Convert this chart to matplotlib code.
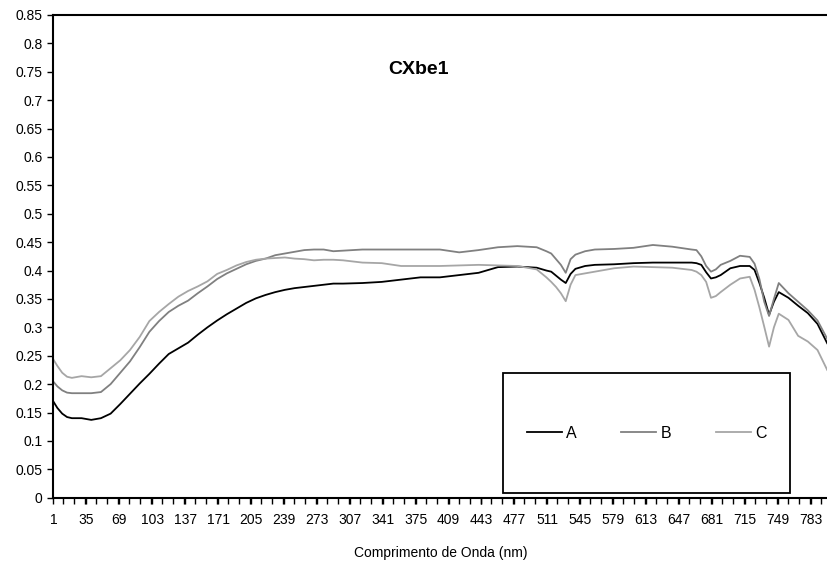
import numpy as np
import matplotlib.pyplot as plt
from matplotlib.patches import Rectangle
from matplotlib.ticker import FixedLocator, MultipleLocator

# wavelength index (category) positions where the curves were read
x = [1, 5, 10, 15, 20, 30, 40, 50, 60, 70, 80, 90, 100, 110, 120, 130, 140, 150,
     160, 170, 180, 190, 200, 210, 220, 230, 240, 250, 260, 270, 280, 290, 300,
     320, 340, 360, 380, 400, 420, 440, 460, 480, 500, 510, 515, 520, 525, 530,
     535, 540, 550, 560, 580, 600, 620, 640, 660, 665, 670, 675, 680, 685, 690,
     700, 710, 720, 725, 730, 735, 740, 745, 750, 760, 770, 780, 790, 800]

serie_a = [0.169, 0.158, 0.148, 0.142, 0.140, 0.140, 0.137, 0.140, 0.148, 0.165,
           0.183, 0.201, 0.218, 0.236, 0.253, 0.263, 0.273, 0.287, 0.300, 0.312,
           0.323, 0.333, 0.343, 0.351, 0.357, 0.362, 0.366, 0.369, 0.371, 0.373,
           0.375, 0.377, 0.377, 0.378, 0.380, 0.384, 0.388, 0.388, 0.392, 0.396,
           0.406, 0.407, 0.405, 0.400, 0.398, 0.391, 0.384, 0.378, 0.394, 0.403,
           0.408, 0.410, 0.411, 0.413, 0.414, 0.414, 0.414, 0.413, 0.410, 0.397,
           0.386, 0.388, 0.392, 0.404, 0.408, 0.408, 0.401, 0.378, 0.352, 0.322,
           0.345, 0.362, 0.352, 0.338, 0.325, 0.306, 0.272]

serie_b = [0.204, 0.196, 0.189, 0.185, 0.184, 0.184, 0.184, 0.186, 0.200, 0.220,
           0.240, 0.265, 0.292, 0.311, 0.327, 0.338, 0.347, 0.360, 0.372, 0.385,
           0.395, 0.403, 0.411, 0.417, 0.421, 0.427, 0.430, 0.433, 0.436, 0.437,
           0.437, 0.434, 0.435, 0.437, 0.437, 0.437, 0.437, 0.437, 0.432, 0.436,
           0.441, 0.443, 0.441, 0.434, 0.430, 0.420, 0.410, 0.396, 0.420, 0.428,
           0.434, 0.437, 0.438, 0.440, 0.445, 0.442, 0.437, 0.436, 0.425, 0.408,
           0.398, 0.402, 0.410, 0.417, 0.426, 0.424, 0.412, 0.385, 0.345, 0.320,
           0.350, 0.378, 0.360, 0.345, 0.330, 0.312, 0.280]

serie_c = [0.243, 0.232, 0.220, 0.213, 0.211, 0.214, 0.212, 0.214, 0.228, 0.242,
           0.260, 0.283, 0.311, 0.327, 0.341, 0.354, 0.364, 0.372, 0.381, 0.394,
           0.401, 0.409, 0.415, 0.419, 0.421, 0.422, 0.423, 0.421, 0.420, 0.418,
           0.419, 0.419, 0.418, 0.414, 0.413, 0.408, 0.408, 0.408, 0.409, 0.410,
           0.409, 0.408, 0.402, 0.388, 0.380, 0.371, 0.360, 0.346, 0.375, 0.392,
           0.395, 0.398, 0.404, 0.407, 0.406, 0.405, 0.401, 0.398, 0.392, 0.380,
           0.352, 0.355, 0.362, 0.375, 0.386, 0.389, 0.366, 0.335, 0.301, 0.266,
           0.300, 0.324, 0.313, 0.285, 0.275, 0.260, 0.225]

plt.rcParams['font.family'] = ['Liberation Sans', 'DejaVu Sans']

fig = plt.figure(figsize=(8.28, 5.68), dpi=100)
ax = fig.add_axes([0.0646, 0.1238, 0.935, 0.8498])

ax.plot(x, serie_a, color='black', lw=1.3, label='A')
ax.plot(x, serie_b, color='#808080', lw=1.3, label='B')
ax.plot(x, serie_c, color='#a6a6a6', lw=1.3, label='C')

ax.set_xlim(1, 800.5)
ax.set_ylim(0, 0.85)

ax.set_yticks(np.arange(0, 0.851, 0.05))
ax.set_yticklabels(['%g' % round(v, 2) for v in np.arange(0, 0.851, 0.05)])
ax.xaxis.set_major_locator(FixedLocator(np.arange(1, 800, 34)))
ax.xaxis.set_minor_locator(MultipleLocator(34 / 3))
ax.tick_params(axis='both', direction='out', length=4, width=1, labelsize=10, pad=4)
ax.tick_params(axis='x', which='minor', direction='out', length=4, width=1)
ax.tick_params(axis='x', pad=7)

for s in ['left', 'bottom', 'top']:
    ax.spines[s].set_linewidth(1.5)
ax.spines['right'].set_visible(False)

ax.set_xlabel('Comprimento de Onda (nm)', fontsize=10, labelpad=14)
ax.text(0.472, 0.887, 'CXbe1', transform=ax.transAxes, fontsize=14,
        fontweight='bold', ha='center', va='center')

# legend box
box = (0.5806, 0.0097, 0.3707, 0.2486)
ax.add_patch(Rectangle(box[:2], box[2], box[3], transform=ax.transAxes,
                       fill=False, edgecolor='black', lw=1.3, zorder=5))
ax.legend(loc='center', bbox_to_anchor=(box[0] + box[2] / 2, box[1] + box[3] / 2),
          ncol=3, frameon=False, fontsize=11.5, handlelength=2.2,
          handletextpad=0.25, columnspacing=2.8)

plt.savefig('out.png', dpi=100)
